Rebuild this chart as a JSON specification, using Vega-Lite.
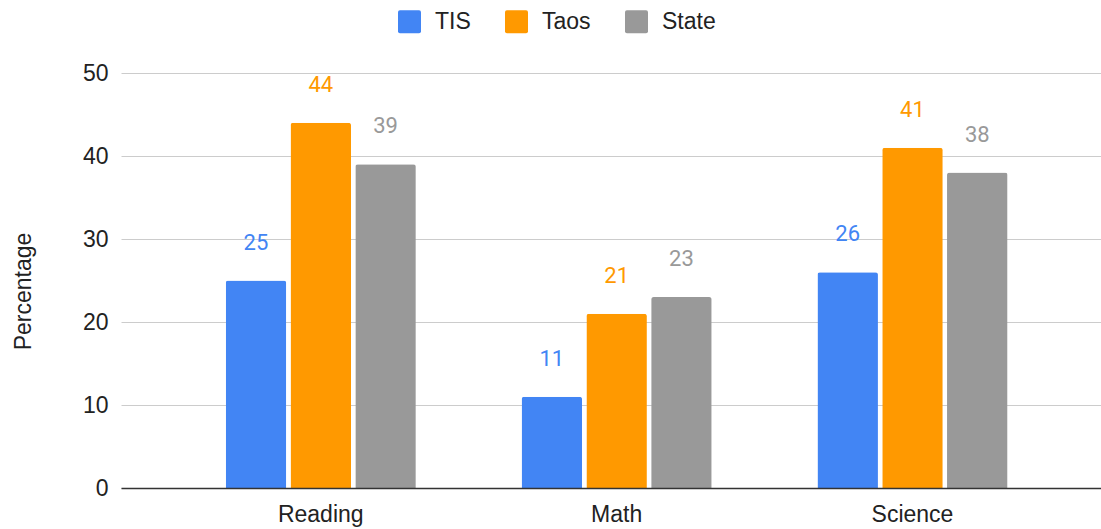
{
  "$schema": "https://vega.github.io/schema/vega-lite/v6.json",
  "width": 980,
  "height": 415,
  "autosize": {"type": "none"},
  "padding": {"left": 121, "top": 73, "right": 0, "bottom": 41},
  "background": "white",
  "data": {
    "values": [
      {"subject": "Reading", "group": "TIS", "value": 25},
      {"subject": "Reading", "group": "Taos", "value": 44},
      {"subject": "Reading", "group": "State", "value": 39},
      {"subject": "Math", "group": "TIS", "value": 11},
      {"subject": "Math", "group": "Taos", "value": 21},
      {"subject": "Math", "group": "State", "value": 23},
      {"subject": "Science", "group": "TIS", "value": 26},
      {"subject": "Science", "group": "Taos", "value": 41},
      {"subject": "Science", "group": "State", "value": 38}
    ]
  },
  "encoding": {
    "x": {
      "field": "subject",
      "type": "nominal",
      "sort": ["Reading", "Math", "Science"],
      "scale": {"paddingInner": 0.343, "paddingOuter": 0.3277, "align": 0.529},
      "axis": {
        "title": null,
        "labelAngle": 0,
        "labelFont": "Liberation Sans",
        "labelFontSize": 23,
        "labelColor": "#222222",
        "labelPadding": 15,
        "ticks": false,
        "tickSize": 0,
        "domainColor": "#333333",
        "domainWidth": 1.5,
        "zindex": 1
      }
    },
    "xOffset": {
      "field": "group",
      "type": "nominal",
      "sort": ["TIS", "Taos", "State"],
      "scale": {"paddingInner": 0.066, "paddingOuter": 0.033}
    },
    "y": {
      "field": "value",
      "type": "quantitative",
      "scale": {"domain": [0, 50], "nice": false},
      "axis": {
        "title": "Percentage",
        "titleFont": "Liberation Sans",
        "titleFontSize": 23,
        "titleFontWeight": "normal",
        "titleColor": "#222222",
        "titleAngle": -90,
        "titleX": -98,
        "titleY": 218,
        "titleAlign": "center",
        "titleBaseline": "middle",
        "values": [0, 10, 20, 30, 40, 50],
        "labelFont": "Liberation Sans",
        "labelFontSize": 23,
        "labelColor": "#222222",
        "labelPadding": 13,
        "ticks": false,
        "tickSize": 0,
        "domain": false,
        "grid": true,
        "gridColor": "#cccccc",
        "gridWidth": 1
      }
    },
    "color": {
      "field": "group",
      "type": "nominal",
      "sort": ["TIS", "Taos", "State"],
      "scale": {"domain": ["TIS", "Taos", "State"], "range": ["#4285f4", "#ff9900", "#999999"]},
      "legend": {
        "title": null,
        "orient": "none",
        "direction": "horizontal",
        "legendX": 277,
        "legendY": -63,
        "symbolType": "M-0.83,-1H0.83Q1,-1 1,-0.83V0.83Q1,1 0.83,1H-0.83Q-1,1 -1,0.83V-0.83Q-1,-1 -0.83,-1Z",
        "symbolSize": 529,
        "symbolStrokeWidth": 0,
        "labelFont": "Liberation Sans",
        "labelFontSize": 23,
        "labelColor": "#222222",
        "labelOffset": 14,
        "columnPadding": 34
      }
    }
  },
  "layer": [
    {
      "mark": {"type": "bar", "cornerRadiusTopLeft": 2.5, "cornerRadiusTopRight": 2.5}
    },
    {
      "mark": {"type": "text", "font": "Roboto", "fontSize": 22, "dy": -31, "baseline": "alphabetic", "align": "center"},
      "encoding": {
        "text": {"field": "value", "type": "quantitative", "format": "d"}
      }
    }
  ],
  "config": {"view": {"stroke": null}}
}
